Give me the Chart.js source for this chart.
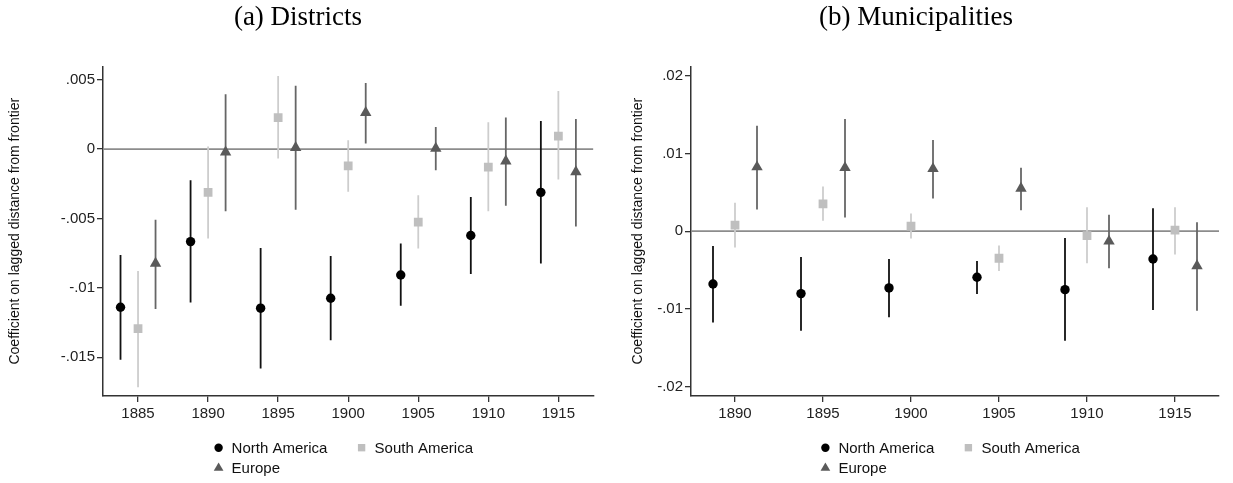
<!DOCTYPE html>
<html>
<head>
<meta charset="utf-8">
<script src="https://cdn.jsdelivr.net/npm/chart.js@4/dist/chart.umd.min.js"></script>
<style>
  body { margin: 0; background: #fff; }
  #wrap { position: relative; width: 1233px; height: 483px; }
  canvas { position: absolute; top: 0; }
</style>
</head>
<body>
<div id="wrap">
  <canvas id="districts" width="600" height="483" style="left:0"></canvas>
  <canvas id="municipalities" width="620" height="483" style="left:613px"></canvas>
</div>
<script>
// (a) Districts
const distYears = [1885, 1890, 1895, 1900, 1905, 1910, 1915];
const distNorthAm   = [-0.0114, -0.00667, -0.01147, -0.01075, -0.00908, -0.00623, -0.00312];
const distNorthAmLo = [-0.01519, -0.01106, -0.01582, -0.01379, -0.0113, -0.00901, -0.00824];
const distNorthAmHi = [-0.00763, -0.00225, -0.00713, -0.00771, -0.00681, -0.00345, 0.00203];
const distSouthAm   = [-0.01295, -0.00312, 0.00227, -0.00121, -0.00527, -0.0013, 0.00094];
const distSouthAmLo = [-0.01717, -0.00645, -0.00068, -0.00307, -0.00717, -0.00449, -0.0022];
const distSouthAmHi = [-0.00879, 0.00019, 0.00527, 0.00063, -0.00333, 0.00193, 0.00418];
const distEurope    = [-0.00824, -0.00022, 0.0001, 0.00263, 0.00005, -0.00087, -0.00164];
const distEuropeLo  = [-0.01152, -0.00449, -0.00437, 0.00041, -0.00152, -0.00408, -0.00558];
const distEuropeHi  = [-0.0051, 0.00396, 0.00457, 0.00476, 0.00159, 0.00227, 0.00217];
const distYTicks = [-0.015, -0.01, -0.005, 0, 0.005];
const distYLabels = ["-.015", "-.01", "-.005", "0", ".005"];

// (b) Municipalities
const muniYears = [1890, 1895, 1900, 1905, 1910, 1915];
const muniNorthAm   = [-0.00679, -0.00803, -0.0073, -0.00593, -0.00752, -0.00357];
const muniNorthAmLo = [-0.01173, -0.0128, -0.01108, -0.00808, -0.01409, -0.01014];
const muniNorthAmHi = [-0.00189, -0.00331, -0.00357, -0.00382, -0.00086, 0.00296];
const muniSouthAm   = [0.00077, 0.00352, 0.00064, -0.00348, -0.00056, 0.00013];
const muniSouthAmLo = [-0.00211, 0.00133, -0.00095, -0.00511, -0.00412, -0.00301];
const muniSouthAmHi = [0.00365, 0.00576, 0.00228, -0.00185, 0.00309, 0.00309];
const muniEurope    = [0.00825, 0.00816, 0.00803, 0.0055, -0.00129, -0.00447];
const muniEuropeLo  = [0.00279, 0.00176, 0.00421, 0.00271, -0.00477, -0.01023];
const muniEuropeHi  = [0.01358, 0.01444, 0.01173, 0.00816, 0.00211, 0.00116];
const muniYTicks = [-0.02, -0.01, 0, 0.01, 0.02];
const muniYLabels = ["-.02", "-.01", "0", ".01", ".02"];

const seriesNames = ["North America", "South America", "Europe"];
const yTitle = "Coefficient on lagged distance from frontier";

// horizontal dodge of the three regions around each year
const dodge = [-1.25, 0, 1.25];
const markerColor = ["#000000", "#bfbfbf", "#5a5a5a"];
const ciColor = ["#111111", "#cdcdcd", "#666666"];
const markerStyle = ["circle", "rect", "triangle"];
const markerRadius = [4.7, 6.2, 6.6];
const legendRadius = [4.2, 5.2, 5.6];

const sans = "'Liberation Sans', Arial, sans-serif";

function ciLine(years, lo, hi, dx) {
  const pts = [];
  years.forEach((yr, i) => {
    pts.push({x: yr + dx, y: lo[i]}, {x: yr + dx, y: hi[i]}, {x: yr + dx, y: null});
  });
  return pts;
}

const legendPlugin = {
  id: "stataLegend",
  afterDraw(chart) {
    const {ctx, chartArea} = chart;
    const cx = (chartArea.left + chartArea.right) / 2;
    const slots = [[-129.6, 447.7], [13.4, 447.7], [-129.6, 468]];
    ctx.save();
    ctx.font = "15px " + sans;
    ctx.textBaseline = "middle";
    chart.data.datasets.filter(d => d.legendIndex !== undefined).forEach(d => {
      const i = d.legendIndex;
      const [dx, y] = slots[i];
      ctx.fillStyle = d.backgroundColor;
      Chart.helpers.drawPoint(ctx, {pointStyle: d.pointStyle, radius: legendRadius[i], rotation: 0, borderWidth: 0}, cx + dx, y);
      ctx.fillStyle = "#111";
      ctx.fillText(d.label, cx + dx + 13, y + 1);
    });
    ctx.restore();
  }
};

function makePanel(id, p) {
  const datasets = [{
    data: [{x: p.xMin, y: 0}, {x: p.xMax, y: 0}],
    borderColor: "#8c8c8c", borderWidth: 1.8, pointRadius: 0, order: 10
  }];
  p.series.forEach((s, i) => {
    datasets.push({
      data: ciLine(p.years, s.lo, s.hi, dodge[i]),
      borderColor: ciColor[i], borderWidth: 1.8, pointRadius: 0, spanGaps: false, order: 5
    });
  });
  p.series.forEach((s, i) => {
    datasets.push({
      label: seriesNames[i],
      legendIndex: i,
      data: p.years.map((yr, k) => ({x: yr + dodge[i], y: s.est[k]})),
      showLine: false,
      pointStyle: markerStyle[i],
      pointRadius: markerRadius[i],
      backgroundColor: markerColor[i],
      borderColor: markerColor[i],
      borderWidth: 0,
      order: 1
    });
  });

  new Chart(document.getElementById(id), {
    type: "line",
    data: {datasets},
    plugins: [legendPlugin],
    options: {
      responsive: false,
      animation: false,
      layout: {padding: {left: 0, right: p.padRight, top: 0, bottom: 60}},
      plugins: {
        legend: {display: false},
        tooltip: {enabled: false},
        title: {
          display: true,
          text: p.title,
          color: "#000",
          font: {family: "'Liberation Serif', 'Times New Roman', serif", size: 27, weight: "normal"},
          padding: {top: 2, bottom: 32}
        }
      },
      scales: {
        x: {
          type: "linear",
          min: p.xMin,
          max: p.xMax,
          afterBuildTicks: s => { s.ticks = p.xTicks.map(v => ({value: v})); },
          afterFit: s => { s.height = 27; },
          grid: {drawOnChartArea: false, drawTicks: true, tickLength: 6, color: "#333", lineWidth: 1.3},
          border: {display: true, color: "#333", width: 1.5},
          ticks: {color: "#222", font: {family: sans, size: 15}, padding: 3, callback: v => String(v)}
        },
        y: {
          min: p.yMin,
          max: p.yMax,
          afterBuildTicks: s => { s.ticks = p.yTicks.map(v => ({value: v})); },
          afterFit: s => { s.width = p.yWidth; },
          grid: {drawOnChartArea: false, drawTicks: true, tickLength: 6, color: "#333", lineWidth: 1.3},
          border: {display: true, color: "#333", width: 1.5},
          ticks: {color: "#222", font: {family: sans, size: 15}, padding: 2, callback: (v, i) => p.yLabels[i]},
          title: {
            display: true, text: yTitle, color: "#111",
            font: {family: sans, size: 14}, padding: {top: p.titlePad, bottom: 0}
          }
        }
      }
    }
  });
}

makePanel("districts", {
  title: "(a) Districts",
  years: distYears,
  xTicks: distYears,
  xMin: 1882.5, xMax: 1917.5,
  yMin: -0.0178, yMax: 0.00596,
  yTicks: distYTicks, yLabels: distYLabels,
  yWidth: 103, padRight: 4, titlePad: 7,
  series: [
    {est: distNorthAm, lo: distNorthAmLo, hi: distNorthAmHi},
    {est: distSouthAm, lo: distSouthAmLo, hi: distSouthAmHi},
    {est: distEurope, lo: distEuropeLo, hi: distEuropeHi}
  ]
});

makePanel("municipalities", {
  title: "(b) Municipalities",
  years: muniYears,
  xTicks: muniYears,
  xMin: 1887.5, xMax: 1917.5,
  yMin: -0.0212, yMax: 0.0212,
  yTicks: muniYTicks, yLabels: muniYLabels,
  yWidth: 78, padRight: 14, titlePad: 17,
  series: [
    {est: muniNorthAm, lo: muniNorthAmLo, hi: muniNorthAmHi},
    {est: muniSouthAm, lo: muniSouthAmLo, hi: muniSouthAmHi},
    {est: muniEurope, lo: muniEuropeLo, hi: muniEuropeHi}
  ]
});
</script>
</body>
</html>
